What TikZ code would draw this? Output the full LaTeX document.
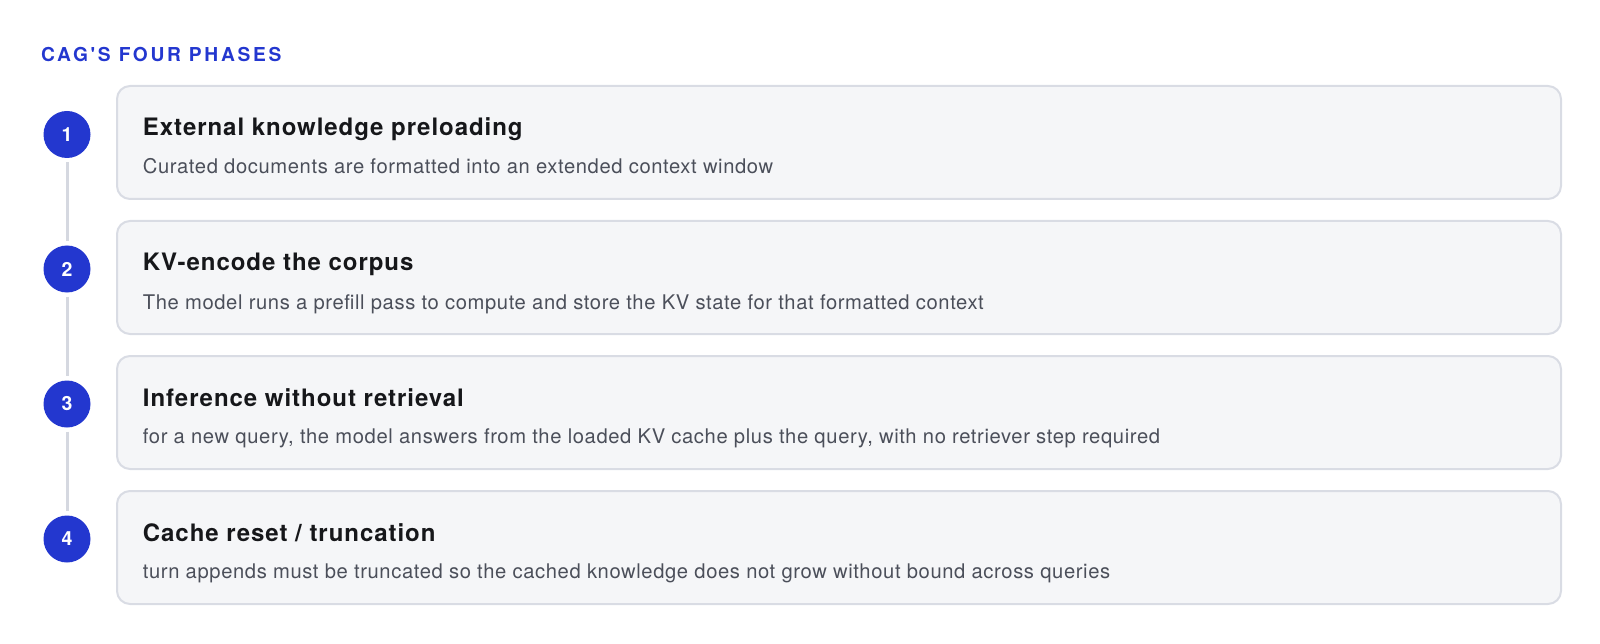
\documentclass[tikz,border=0pt]{standalone}
\usepackage{fontspec}
\setmainfont{TeX Gyre Heros}
\definecolor{accent}{HTML}{2337CF}
\definecolor{boxfill}{HTML}{F5F6F8}
\definecolor{boxline}{HTML}{D9DCE4}
\definecolor{linegray}{HTML}{D5D8E0}
\definecolor{headtext}{HTML}{16171A}
\definecolor{subtext}{HTML}{4B4F5A}
\tikzset{
  phasebox/.style={draw=boxline, fill=boxfill, line width=2pt, rounded corners=13pt},
  numdot/.style={circle, fill=accent, minimum size=47pt, inner sep=0pt, text=white, font=\fontsize{19.5}{20}\selectfont\bfseries},
  headlabel/.style={anchor=base west, inner sep=0pt, text=headtext, font=\fontsize{24}{25}\selectfont\bfseries\addfontfeature{LetterSpace=4}},
  sublabel/.style={anchor=base west, inner sep=0pt, text=subtext, font=\fontsize{20.2}{22}\selectfont\addfontfeature{LetterSpace=3}},
  conn/.style={draw=linegray, line width=3pt, shorten <=4pt, shorten >=4pt},
  titlelabel/.style={anchor=base west, inner sep=0pt, text=accent, font=\fontsize{19.2}{20}\selectfont\bfseries\addfontfeature{LetterSpace=14,Ligatures=TeXOff}}
}
\begin{document}
\begin{tikzpicture}[x=1pt,y=-1pt]
\useasboundingbox (0,0) rectangle (1600,644);
\node[titlelabel] (title) at (41,61.7) {CAG'S FOUR PHASES};
% boxes
\foreach \i/\t in {1/86,2/221,3/356,4/491}{
  \draw[phasebox] (117,\t) rectangle (1561,\t+113);
}
\node[headlabel] (h1) at (142.7,136) {External knowledge preloading};
\node[sublabel] (s1) at (142.7,174) {Curated documents are formatted into an extended context window};
\node[headlabel] (h2) at (142.7,271) {KV-encode the corpus};
\node[sublabel] (s2) at (142.7,309) {The model runs a prefill pass to compute and store the KV state for that formatted context};
\node[headlabel] (h3) at (142.7,406) {Inference without retrieval};
\node[sublabel] (s3) at (142.7,443.5) {for a new query, the model answers from the loaded KV cache plus the query, with no retriever step required};
\node[headlabel] (h4) at (142.7,541) {Cache reset / truncation};
\node[sublabel] (s4) at (142.7,578.5) {turn appends must be truncated so the cached knowledge does not grow without bound across queries};
% circles
\node[numdot] (c1) at (67,134.5) {1};
\node[numdot] (c2) at (67,269) {2};
\node[numdot] (c3) at (67,404) {3};
\node[numdot] (c4) at (67,539) {4};
\draw[conn] (c1.south) -- (c2.north);
\draw[conn] (c2.south) -- (c3.north);
\draw[conn] (c3.south) -- (c4.north);
\end{tikzpicture}
\end{document}
